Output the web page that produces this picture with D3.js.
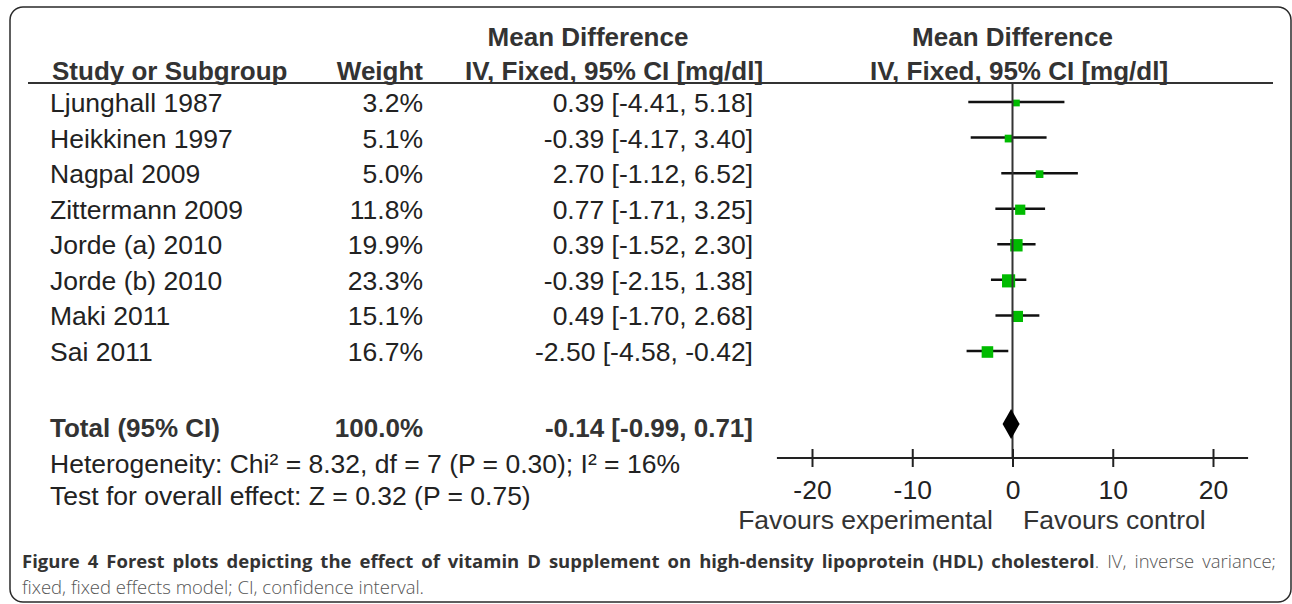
<!DOCTYPE html>
<html lang="en">
<head>
<meta charset="utf-8">
<title>Forest plot - HDL cholesterol</title>
<script src="https://cdn.jsdelivr.net/npm/d3@7"></script>
<style>
    body { margin: 0; background: #fff; }
</style>
</head>
<body>
<script type="text/javascript">

    var studies = ["Ljunghall 1987", "Heikkinen 1997", "Nagpal 2009", "Zittermann 2009",
        "Jorde (a) 2010", "Jorde (b) 2010", "Maki 2011", "Sai 2011"];
    var weights = [3.2, 5.1, 5.0, 11.8, 19.9, 23.3, 15.1, 16.7];
    var meanDiff = [0.39, -0.39, 2.70, 0.77, 0.39, -0.39, 0.49, -2.50];
    var ciLow = [-4.41, -4.17, -1.12, -1.71, -1.52, -2.15, -1.70, -4.58];
    var ciHigh = [5.18, 3.40, 6.52, 3.25, 2.30, 1.38, 2.68, -0.42];

    var totalLabel = "Total (95% CI)";
    var totalWeight = 100.0;
    var totalMD = -0.14, totalLow = -0.99, totalHigh = 0.71;

    var axisTicks = [-20, -10, 0, 10, 20];
    var heterogeneity = "Heterogeneity: Chi² = 8.32, df = 7 (P = 0.30); I² = 16%";
    var overallEffect = "Test for overall effect: Z = 0.32 (P = 0.75)";

    var width = 1292;
    var height = 604;
    var font = "'Liberation Sans', Arial, sans-serif";
    var textSize = 26.5;

    // plain hyphen for negatives, like the original
    var locale = d3.formatLocale({decimal: ".", thousands: ",", grouping: [3], currency: ["", ""], minus: "-"});
    var fmtW = locale.format(".1f");
    var fmt2 = locale.format(".2f");

    function ciText(m, l, h) {
        return fmt2(m) + " [" + fmt2(l) + ", " + fmt2(h) + "]";
    }

    var svg = d3.select("body").append("svg")
    .attr("width", width)
    .attr("height", height);

    // frame
    svg.append("rect")
    .attr("x", 10).attr("y", 7)
    .attr("width", 1281).attr("height", 595)
    .attr("rx", 13)
    .attr("fill", "none")
    .attr("stroke", "#2a2a2a")
    .attr("stroke-width", 1.5);

    var x = d3.scaleLinear().domain([-20, 20]).range([812, 1213]);
    var y = d3.scaleLinear().domain([0, studies.length - 1]).range([102, 351]);
    var size = d3.scaleSqrt().domain([0, 25]).range([3, 13.5]);

    var totalY = 424;
    var axisY = 458;

    // headers
    var head = svg.append("g")
    .attr("font-family", font)
    .attr("font-size", 26)
    .attr("font-weight", "bold")
    .attr("fill", "#333");

    head.append("text").attr("x", 588).attr("y", 46).attr("text-anchor", "middle").text("Mean Difference");
    head.append("text").attr("x", x(0)).attr("y", 46).attr("text-anchor", "middle").text("Mean Difference");
    head.append("text").attr("x", 52).attr("y", 80).text("Study or Subgroup");
    head.append("text").attr("x", 423).attr("y", 80).attr("text-anchor", "end").text("Weight");
    head.append("text").attr("x", 614).attr("y", 80).attr("text-anchor", "middle").text("IV, Fixed, 95% CI [mg/dl]");
    head.append("text").attr("x", 1019).attr("y", 80).attr("text-anchor", "middle").text("IV, Fixed, 95% CI [mg/dl]");

    svg.append("line")
    .attr("x1", 28).attr("x2", 1273)
    .attr("y1", 83).attr("y2", 83)
    .attr("stroke", "#333").attr("stroke-width", 2);

    // study rows
    var rows = svg.selectAll("g.row")
    .data(studies)
    .enter()
    .append("g")
    .attr("class", "row")
    .attr("font-family", font)
    .attr("font-size", textSize)
    .attr("fill", "#222");

    rows.append("text")
    .attr("x", 50)
    .attr("y", function (d, i) { return y(i) + 10; })
    .text(function (d) { return d; });

    rows.append("text")
    .attr("x", 423)
    .attr("text-anchor", "end")
    .attr("y", function (d, i) { return y(i) + 10; })
    .text(function (d, i) { return fmtW(weights[i]) + "%"; });

    rows.append("text")
    .attr("x", 753)
    .attr("text-anchor", "end")
    .attr("y", function (d, i) { return y(i) + 10; })
    .text(function (d, i) { return ciText(meanDiff[i], ciLow[i], ciHigh[i]); });

    // line of no effect
    svg.append("line")
    .attr("x1", x(0)).attr("x2", x(0))
    .attr("y1", 83).attr("y2", axisY)
    .attr("stroke", "#333").attr("stroke-width", 2);

    rows.append("line")
    .attr("x1", function (d, i) { return x(ciLow[i]); })
    .attr("x2", function (d, i) { return x(ciHigh[i]); })
    .attr("y1", function (d, i) { return y(i); })
    .attr("y2", function (d, i) { return y(i); })
    .attr("stroke", "#111")
    .attr("stroke-width", 2.5);

    rows.append("rect")
    .attr("x", function (d, i) { return x(meanDiff[i]) - size(weights[i]) / 2; })
    .attr("y", function (d, i) { return y(i) + 1 - size(weights[i]) / 2; })
    .attr("width", function (d, i) { return size(weights[i]); })
    .attr("height", function (d, i) { return size(weights[i]); })
    .attr("fill", "#00bb00");

    // total row
    var tot = svg.append("g")
    .attr("font-family", font)
    .attr("font-size", 26)
    .attr("font-weight", "bold")
    .attr("fill", "#333");

    tot.append("text").attr("x", 50).attr("y", 437).text(totalLabel);
    tot.append("text").attr("x", 423).attr("y", 437).attr("text-anchor", "end").text(fmtW(totalWeight) + "%");
    tot.append("text").attr("x", 753).attr("y", 437).attr("text-anchor", "end").text(ciText(totalMD, totalLow, totalHigh));

    svg.append("path")
    .attr("d", "M" + x(totalLow) + "," + totalY +
        "L" + x(totalMD) + "," + (totalY - 15) +
        "L" + x(totalHigh) + "," + totalY +
        "L" + x(totalMD) + "," + (totalY + 15) + "Z")
    .attr("fill", "#000");

    var notes = svg.append("g")
    .attr("font-family", font)
    .attr("font-size", textSize)
    .attr("fill", "#222");
    notes.append("text").attr("x", 50).attr("y", 473).text(heterogeneity);
    notes.append("text").attr("x", 50).attr("y", 505).text(overallEffect);

    // axis
    var axis = d3.axisBottom(x)
    .tickValues(axisTicks)
    .tickSizeInner(9)
    .tickSizeOuter(0)
    .tickPadding(13)
    .tickFormat(locale.format("d"));

    var gAxis = svg.append("g")
    .attr("transform", "translate(0," + axisY + ")")
    .call(axis);

    gAxis.select(".domain").remove();
    gAxis.selectAll(".tick line")
    .attr("y1", -9)
    .attr("stroke", "#222")
    .attr("stroke-width", 2);
    gAxis.selectAll(".tick text")
    .attr("font-family", font)
    .attr("font-size", textSize)
    .attr("fill", "#222");

    gAxis.append("line")
    .attr("x1", x(-23.5)).attr("x2", x(23.5))
    .attr("y1", 0).attr("y2", 0)
    .attr("stroke", "#222").attr("stroke-width", 2);

    svg.append("text")
    .attr("x", 993).attr("y", 529)
    .attr("text-anchor", "end")
    .attr("font-family", font).attr("font-size", textSize).attr("fill", "#333")
    .text("Favours experimental");
    svg.append("text")
    .attr("x", 1023).attr("y", 529)
    .attr("font-family", font).attr("font-size", textSize).attr("fill", "#333")
    .text("Favours control");

    // caption
    var cap1 = svg.append("text")
    .attr("x", 22).attr("y", 568)
    .attr("font-family", "'Open Sans', sans-serif")
    .attr("font-size", 18.5);
    cap1.append("tspan")
    .attr("font-weight", "bold").attr("fill", "#333")
    .text("Figure 4 Forest plots depicting the effect of vitamin D supplement on high-density lipoprotein (HDL) cholesterol");
    cap1.append("tspan")
    .attr("font-weight", 300).attr("fill", "#555")
    .text(". IV, inverse variance;");

    // justify the first caption line
    var natural = cap1.node().getComputedTextLength();
    var spaces = cap1.text().split(" ").length - 1;
    cap1.attr("word-spacing", (1254 - natural) / spaces);

    svg.append("text")
    .attr("x", 22).attr("y", 594)
    .attr("font-family", "'Open Sans', sans-serif")
    .attr("font-size", 18.5)
    .attr("font-weight", 300)
    .attr("fill", "#555")
    .text("fixed, fixed effects model; CI, confidence interval.");

</script>
</body>
</html>
